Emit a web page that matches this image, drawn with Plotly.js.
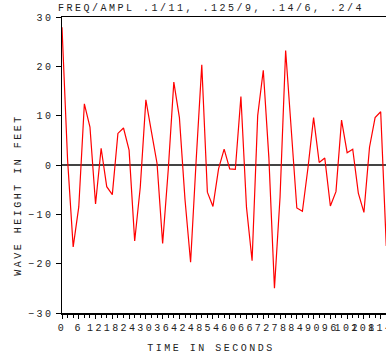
<!DOCTYPE html>
<html>
<head>
<meta charset="utf-8">
<script src="https://cdn.plot.ly/plotly-3.0.1.min.js"></script>
<style>
html,body{margin:0;padding:0;background:#fff;}
.main-svg text{letter-spacing:2.5px;}
</style>
</head>
<body>
<div id="chart" style="width:386px;height:355px;"></div>
<script>
// Time in seconds (sample instants)
var timeSeconds = [0,2,4,6,8,10,12,14,16,18,20,22,24,26,28,30,32,34,36,38,40,42,44,46,48,50,52,54,56,58,60,62,64,66,68,70,72,74,76,78,80,82,84,86,88,90,92,94,96,98,100,102,104,106,108,110,112,114,116];
// Wave height in feet
var waveHeight = [27.9,1.0,-16.6,-8.5,12.4,7.7,-7.9,3.4,-4.4,-6.0,6.4,7.5,3.0,-15.4,-4.5,13.2,6.7,0.3,-15.9,-1.0,16.8,9.6,-7.0,-19.7,1.0,20.3,-5.5,-8.4,-0.8,3.2,-0.8,-0.9,13.9,-8.6,-19.4,10.0,19.2,1.5,-25.0,-6.5,23.2,6.5,-8.7,-9.4,-0.5,9.6,0.5,1.4,-8.3,-5.4,9.1,2.5,3.2,-5.7,-9.6,3.6,9.6,10.8,-16.4];
var xTickVals = [0,6,12,18,24,30,36,42,48,54,60,66,72,78,84,90,96,102,108,114];
var yTickVals = [-30,-20,-10,0,10,20,30];

var font = {family: '"Liberation Mono", "Courier New", monospace', size: 10, color: '#222'};

var trace = {
  x: timeSeconds,
  y: waveHeight,
  type: 'scatter',
  mode: 'lines',
  line: {color: '#ff0000', width: 1.2},
  hoverinfo: 'skip'
};

var W = 386, H = 355, L = 62, R = 0, T = 17, B = 42;
var pw = W - L - R, ph = H - T - B;

var layout = {
  width: W, height: H,
  margin: {l: L, r: R, t: T, b: B, pad: 0},
  paper_bgcolor: '#fff',
  plot_bgcolor: '#fff',
  showlegend: false,
  font: font,
  title: {
    text: 'FREQ/AMPL .1/11, .125/9, .14/6, .2/4',
    font: font,
    xref: 'container', x: 211 / W, xanchor: 'center',
    yref: 'container', y: 1 - 7 / H, yanchor: 'middle'
  },
  xaxis: {
    range: [0, 115.9],
    tickmode: 'array',
    tickvals: xTickVals,
    ticktext: xTickVals.map(String),
    tickangle: 0,
    ticklabeloverflow: 'allow',
    ticks: 'outside', ticklen: 4, tickwidth: 1, tickcolor: '#000',
    minor: {dtick: 2, tick0: 0, ticks: 'outside', ticklen: 3, tickcolor: '#000', showgrid: false},
    showline: true, linecolor: '#000', linewidth: 1.5, mirror: true,
    showgrid: false, zeroline: false,
    tickfont: font,
    fixedrange: true
  },
  yaxis: {
    range: [-30, 30],
    tickmode: 'array',
    tickvals: yTickVals,
    ticks: 'outside', ticklen: 5, tickwidth: 1, tickcolor: '#000',
    showline: true, linecolor: '#000', linewidth: 1.5,
    showgrid: false,
    zeroline: true, zerolinecolor: '#444', zerolinewidth: 1.5,
    tickfont: font,
    fixedrange: true
  },
  annotations: [
    {
      text: 'TIME IN SECONDS', showarrow: false, font: font,
      xref: 'paper', yref: 'paper',
      x: (211 - L) / pw, y: (H - B - 348) / ph,
      xanchor: 'center', yanchor: 'middle'
    },
    {
      text: 'WAVE HEIGHT IN FEET', showarrow: false, font: font, textangle: -90,
      xref: 'paper', yref: 'paper',
      x: (18 - L) / pw, y: (H - B - 195) / ph,
      xanchor: 'center', yanchor: 'middle'
    }
  ]
};

Plotly.newPlot('chart', [trace], layout, {displayModeBar: false, staticPlot: true});
</script>
</body>
</html>
